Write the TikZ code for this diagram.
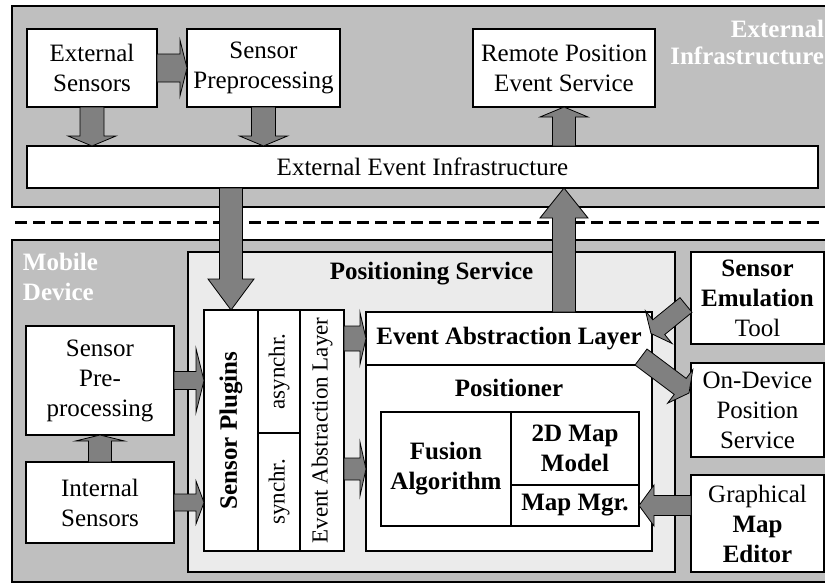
\documentclass[tikz,border=0pt]{standalone}
\usepackage{fontspec}
\setmainfont{Liberation Serif}
\usepackage{graphicx}
\usetikzlibrary{calc}
\definecolor{areagray}{gray}{0.75}
\definecolor{svcgray}{gray}{0.92}
\definecolor{arrgray}{gray}{0.5}

\begin{document}
\begin{tikzpicture}[x=1pt,y=-1pt,
  every node/.style={inner sep=0pt,outer sep=0pt},
  area/.style={draw,line width=2.8pt,fill=areagray,anchor=north west},
  blk/.style={draw,line width=2.6pt,fill=white,anchor=north west,align=center,font=\fontsize{25}{30}\selectfont},
  bblk/.style={blk,font=\fontsize{25}{30}\selectfont\bfseries},
  vblk/.style={blk,font=\fontsize{23}{28}\selectfont},
  tag/.style={text=white,font=\fontsize{25}{30}\selectfont\bfseries},
  ttl/.style={font=\fontsize{25}{30}\selectfont\bfseries},
  fat/.style n args={3}{draw=black,fill=arrgray,line width=0.8pt,
    to path={($(\tikztotarget)!#3!(\tikztostart)$) coordinate (fb)
      ($(\tikztostart)!#1!90:(\tikztotarget)$)
      -- ($(fb)!#1!90:(\tikztotarget)$) -- ($(fb)!#2!90:(\tikztotarget)$)
      -- (\tikztotarget)
      -- ($(fb)!#2!-90:(\tikztotarget)$) -- ($(fb)!#1!-90:(\tikztotarget)$)
      -- ($(\tikztostart)!#1!-90:(\tikztotarget)$) -- cycle}}]
  \useasboundingbox (0,0) rectangle (825,584);
  \clip (0,0) rectangle (825,584);
  \fill[white] (0,0) rectangle (825,584);

  \node[area,minimum width=830pt,minimum height=201pt] (extarea) at (12,6) {};
  \node[area,minimum width=830pt,minimum height=342pt] (mobarea) at (12,240) {};
  \draw[line width=3pt,dash pattern=on 12pt off 6pt] (15,222) -- (825,222);
  \node[tag,anchor=north east,align=right,font=\fontsize{25}{27}\selectfont\bfseries] (extlbl) at (824,20) {External\\Infrastructure};
  \node[tag,anchor=north west,align=left] (moblbl) at (23,253) {Mobile\\Device};

  \node[blk,minimum width=130pt,minimum height=78pt] (extsens) at (27,29) {External\\Sensors};
  \node[blk,minimum width=153pt,minimum height=78pt] (spre) at (187,29) {Sensor\\Preprocessing};
  \node[blk,minimum width=182pt,minimum height=78pt] (remote) at (473,29) {Remote Position\\Event Service};
  \node[blk,minimum width=791pt,minimum height=42pt] (eei) at (27,146) {External Event Infrastructure};

  \node[blk,fill=svcgray,minimum width=487pt,minimum height=320pt] (possvc) at (188,252) {};
  \node[ttl] (possvctitle) at (431.5,274) {Positioning Service};
  \node[blk,minimum width=148pt,minimum height=109pt] (mspre) at (26,326) {Sensor\\Pre-\\processing};
  \node[blk,minimum width=148pt,minimum height=81pt] (intsens) at (26,462) {Internal\\Sensors};
  \node[bblk,minimum width=54pt,minimum height=241pt] (plugins) at (204,310) {\rotatebox{90}{Sensor Plugins}};
  \node[vblk,minimum width=42pt,minimum height=123pt] (async) at (258,310) {\rotatebox{90}{asynchr.}};
  \node[vblk,minimum width=42pt,minimum height=118pt] (sync) at (258,433) {\rotatebox{90}{synchr.}};
  \node[vblk,minimum width=44pt,minimum height=241pt] (veal) at (300,310) {\rotatebox{90}{Event Abstraction Layer}};
  \node[bblk,minimum width=286pt,minimum height=53pt] (eal) at (366,312) {Event Abstraction Layer};
  \node[blk,minimum width=286pt,minimum height=186pt] (positioner) at (366,365) {};
  \node[ttl] (postitle) at (509,388) {Positioner};
  \node[bblk,minimum width=130pt,minimum height=114pt] (fusion) at (381,412) {Fusion\\Algorithm};
  \node[bblk,minimum width=128pt,minimum height=73pt] (mapmodel) at (511,412) {2D Map\\Model};
  \node[bblk,minimum width=128pt,minimum height=41pt] (mapmgr) at (511,485) {Map Mgr.};
  \node[blk,minimum width=133pt,minimum height=92pt] (emu) at (691,252) {\textbf{Sensor}\\\textbf{Emulation}\\Tool};
  \node[blk,minimum width=133pt,minimum height=94pt] (ondev) at (691,363) {On-Device\\Position\\Service};
  \node[blk,minimum width=133pt,minimum height=97pt] (editor) at (691,475) {Graphical\\\textbf{Map}\\\textbf{Editor}};

  \coordinate (emutail) at ($(emu.west)+(-5,7)$);
  \coordinate (emutip) at ($(eal.east)+(-1,-5)$);
  \coordinate (odtail) at ($(eal.south east)+(-11,-8)$);
  \coordinate (odtip) at ($(ondev.west)+(-2,-17)$);

  \path
  (extsens.east) edge[fat={14pt}{28pt}{7pt}] (spre.west)
  (extsens.south) edge[fat={12pt}{24pt}{10pt}] (extsens.south |- eei.north)
  (spre.south) edge[fat={12pt}{24pt}{10pt}] (spre.south |- eei.north)
  (remote.south |- eei.north) edge[fat={11.5pt}{24pt}{10pt}] (remote.south)
  (plugins.north |- eei.south) edge[fat={11.5pt}{23pt}{31pt}] (plugins.north)
  (remote.south |- eal.north) edge[fat={11.5pt}{24pt}{30pt}] (remote.south |- eei.south)
  (intsens.north) edge[fat={11.5pt}{24.5pt}{6pt}] (mspre.south)
  (mspre.east) edge[fat={9pt}{32pt}{8pt}] (mspre.east -| plugins.west)
  (intsens.east) edge[fat={8.5pt}{21.5pt}{8pt}] (intsens.east -| plugins.west)
  (veal.east |- eal.west) edge[fat={12.5pt}{26pt}{6pt}] (eal.west)
  (veal.east |- fusion.west) edge[fat={11pt}{27pt}{6pt}] (positioner.west |- fusion.west)
  (editor.west |- mapmgr.east) edge[fat={10pt}{20.5pt}{15pt}] (mapmgr.east)
  (emutail) edge[fat={9.5pt}{21pt}{10pt}] (emutip)
  (odtail) edge[fat={10pt}{21pt}{11pt}] (odtip)
  ;
\end{tikzpicture}
\end{document}
